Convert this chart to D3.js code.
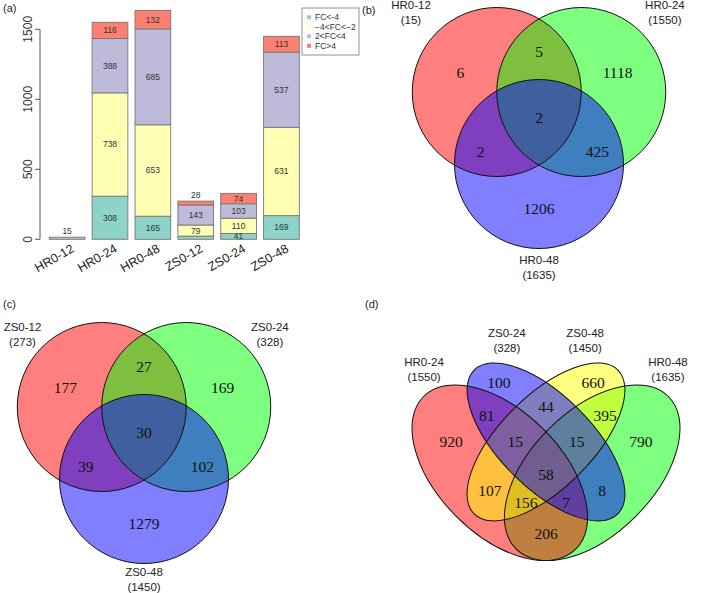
<!DOCTYPE html>
<html><head><meta charset="utf-8">
<script src="https://cdn.jsdelivr.net/npm/d3@7/dist/d3.min.js"></script>
<style>body{margin:0;background:#fff} svg{display:block}</style>
</head><body>
<script>
// ---------- Panel (a) data ----------
const samples = ["HR0-12","HR0-24","HR0-48","ZS0-12","ZS0-24","ZS0-48"];
const fcClasses = ["FC<-4","\u22124<FC<\u22122","2<FC<4","FC>4"];
const fcColors = ["#8DD3C7","#FFFFB3","#BEBADA","#FB8072"];
const fcLtMinus4     = [0, 308, 165, 23, 41, 169];
const fcMinus4toMinus2 = [0, 738, 653, 79, 110, 631];
const fc2to4         = [15, 388, 685, 143, 103, 537];
const fcGt4          = [0, 116, 132, 28, 74, 113];
const yTicks = [0, 500, 1000, 1500];

// ---------- Panel (b) data ----------
const vennBSets = ["HR0-12","HR0-24","HR0-48"];
const vennBSizes = [15, 1550, 1635];
// order: A only, B only, C only, AB, AC, BC, ABC
const vennBRegions = [6, 1118, 1206, 5, 2, 425, 2];

// ---------- Panel (c) data ----------
const vennCSets = ["ZS0-12","ZS0-24","ZS0-48"];
const vennCSizes = [273, 328, 1450];
const vennCRegions = [177, 169, 1279, 27, 39, 102, 30];

// ---------- Panel (d) data ----------
const vennDSets = ["HR0-24","ZS0-24","ZS0-48","HR0-48"];
const vennDSizes = [1550, 328, 1450, 1635];
// regions: HR24, ZS24, ZS48, HR48, HR24&ZS24, ZS24&ZS48, ZS48&HR48, HR24&ZS48, ZS24&HR48, HR24&HR48,
//          HR24&ZS24&ZS48, ZS24&ZS48&HR48, HR24&ZS48&HR48, HR24&ZS24&HR48, all
const vennDRegions = [920, 100, 660, 790, 81, 44, 395, 107, 8, 206, 15, 15, 156, 7, 58];

const W = 709, H = 593;
const svg = d3.select("body").append("svg").attr("width", W).attr("height", H)
  .style("font-family", "'Liberation Sans', Arial, sans-serif");
svg.append("rect").attr("width", W).attr("height", H).attr("fill", "#fff");

// ================= Panel (a) =================
(function(){
  const g = svg.append("g");
  const series = [fcLtMinus4, fcMinus4toMinus2, fc2to4, fcGt4];
  const x = d3.scaleBand().domain(samples).range([45.7, 302.9]).paddingInner(1/6).paddingOuter(1/12);
  const y = d3.scaleLinear().domain([0, 1500]).range([239.3, 29.3]);

  g.append("text").attr("x", 3).attr("y", 12).attr("font-size", 11).attr("fill", "#222").text("(a)");

  // axis
  g.append("line").attr("x1", 40).attr("x2", 40).attr("y1", y(0)).attr("y2", y(1500))
    .attr("stroke", "#555").attr("stroke-width", 1);
  yTicks.forEach(t => {
    g.append("line").attr("x1", 35).attr("x2", 40).attr("y1", y(t)).attr("y2", y(t))
      .attr("stroke", "#555");
    g.append("text").attr("transform", `translate(31.5,${y(t)}) rotate(-90)`)
      .attr("text-anchor", "middle").attr("font-size", 12).attr("fill", "#333").text(t);
  });

  samples.forEach((s, i) => {
    let cum = 0;
    const vals = series.map(a => a[i]);
    let topIdx = -1; vals.forEach((v, k) => { if (v > 0) topIdx = k; });
    const total = d3.sum(vals);
    vals.forEach((v, k) => {
      if (v <= 0) return;
      const y0 = y(cum), y1 = y(cum + v);
      g.append("rect").attr("x", x(s)).attr("width", x.bandwidth())
        .attr("y", y1).attr("height", y0 - y1)
        .attr("fill", fcColors[k]).attr("stroke", "#777").attr("stroke-width", 0.9);
      cum += v;
    });
    cum = 0;
    vals.forEach((v, k) => {
      if (v <= 0) return;
      const y0 = y(cum), y1 = y(cum + v);
      let ly = null;
      if (k === topIdx && (y0 - y1) < 6) ly = y(total) - 6.5;
      else if (v >= 30) ly = (y0 + y1) / 2;
      if (ly !== null) {
        g.append("text").attr("x", x(s) + x.bandwidth() / 2).attr("y", ly)
          .attr("dy", "0.35em").attr("text-anchor", "middle")
          .attr("font-size", 8.5).attr("fill", "#333").text(v);
      }
      cum += v;
    });
    g.append("text").attr("transform", `translate(${x(s) + x.bandwidth() / 2 + 8},251) rotate(-30)`)
      .attr("text-anchor", "end").attr("font-size", 12.5).attr("fill", "#222").text(s);
  });

  // legend
  const lg = g.append("g");
  lg.append("rect").attr("x", 302).attr("y", 8).attr("width", 57).attr("height", 47)
    .attr("fill", "#fff").attr("stroke", "#888").attr("stroke-width", 0.9);
  fcClasses.forEach((c, k) => {
    const cy = 17.3 + k * 9.5;
    lg.append("rect").attr("x", 307).attr("y", cy - 2).attr("width", 4).attr("height", 4).attr("fill", fcColors[k]);
    lg.append("text").attr("x", 315).attr("y", cy).attr("dy", "0.35em")
      .attr("font-size", 8.5).attr("fill", "#333").text(c);
  });
})();

// ================= Triple Venn (b), (c) =================
const tripleCenters = [[-0.5, -0.852], [0.5, -0.852], [0, 0]];
const tripleLabelPos = [[-0.93, -1.077], [0.93, -1.077], [0, 0.53], [0, -1.33], [-0.69, -0.15], [0.69, -0.15], [0, -0.544]];
const vennFill = ["#FF0000", "#00FF00", "#0000FF"];

function tripleVenn(tag, tagX, tagY, cx, cy, r, sets, sizes, regions, catPos) {
  const g = svg.append("g");
  const sx = d3.scaleLinear().domain([0, 1]).range([cx, cx + r]);
  const sy = d3.scaleLinear().domain([0, 1]).range([cy, cy + r]);
  g.append("text").attr("x", tagX).attr("y", tagY).attr("font-size", 11).attr("fill", "#222").text(tag);
  tripleCenters.forEach((c, i) => {
    g.append("circle").attr("cx", sx(c[0])).attr("cy", sy(c[1])).attr("r", r)
      .attr("fill", vennFill[i]).attr("fill-opacity", 0.5);
  });
  tripleCenters.forEach((c, i) => {
    g.append("circle").attr("cx", sx(c[0])).attr("cy", sy(c[1])).attr("r", r)
      .attr("fill", "none").attr("stroke", "#111").attr("stroke-width", 1);
  });
  regions.forEach((v, i) => {
    g.append("text").attr("x", sx(tripleLabelPos[i][0])).attr("y", sy(tripleLabelPos[i][1]))
      .attr("dy", "0.35em").attr("text-anchor", "middle")
      .attr("font-family", "'Liberation Serif', 'Times New Roman', serif")
      .attr("font-size", 15.5).attr("fill", "#111").text(v);
  });
  sets.forEach((s, i) => {
    const t = g.append("text").attr("text-anchor", "middle").attr("font-size", 11.5).attr("fill", "#222");
    t.append("tspan").attr("x", sx(catPos[i][0])).attr("y", sy(catPos[i][1])).text(s);
    t.append("tspan").attr("x", sx(catPos[i][0])).attr("y", sy(catPos[i][1]) + 15).text("(" + sizes[i] + ")");
  });
}

tripleVenn("(b)", 362, 14, 539, 164, 84.5, vennBSets, vennBSizes, vennBRegions,
  [[-1.515, -1.834], [1.49, -1.834], [0, 1.183]]);
tripleVenn("(c)", 3, 308, 144, 479, 84.5, vennCSets, vennCSizes, vennCRegions,
  [[-1.438, -1.751], [1.49, -1.751], [0, 1.148]]);

// ================= Quad Venn (d) =================
(function(){
  const g = svg.append("g");
  const sx = d3.scaleLinear().domain([0, 1]).range([392, 700]);
  const sy = d3.scaleLinear().domain([0, 1]).range([617.5, 309.5]);
  const S = 308;
  g.append("text").attr("x", 365).attr("y", 308).attr("font-size", 11).attr("fill", "#222").text("(d)");
  // ellipses: [cx, cy, a, b, rot] per set (HR0-24, ZS0-24, ZS0-48, HR0-48)
  const ell = [[0.35, 0.47, 0.35, 0.20, 45], [0.50, 0.57, 0.33, 0.15, 45],
               [0.50, 0.57, 0.33, 0.15, -45], [0.65, 0.47, 0.35, 0.20, -45]];
  const colors = ["#FF0000", "#0000FF", "#FFFF00", "#00FF00"];
  const drawOrder = [3, 0, 2, 1];
  drawOrder.forEach(i => {
    const e = ell[i];
    g.append("ellipse").attr("transform", `translate(${sx(e[0])},${sy(e[1])}) rotate(${e[4]})`)
      .attr("rx", e[2] * S).attr("ry", e[3] * S).attr("fill", colors[i]).attr("fill-opacity", 0.5);
  });
  ell.forEach(e => {
    g.append("ellipse").attr("transform", `translate(${sx(e[0])},${sy(e[1])}) rotate(${e[4]})`)
      .attr("rx", e[2] * S).attr("ry", e[3] * S).attr("fill", "none").attr("stroke", "#111").attr("stroke-width", 1);
  });
  const pos = [[0.192, 0.57], [0.347, 0.762], [0.653, 0.762], [0.808, 0.57], [0.308, 0.657], [0.5, 0.684],
               [0.692, 0.657], [0.318, 0.411], [0.682, 0.411], [0.5, 0.271], [0.4, 0.57], [0.6, 0.57],
               [0.435, 0.372], [0.565, 0.372], [0.5, 0.463]];
  vennDRegions.forEach((v, i) => {
    g.append("text").attr("x", sx(pos[i][0])).attr("y", sy(pos[i][1])).attr("dy", "0.35em")
      .attr("text-anchor", "middle").attr("font-family", "'Liberation Serif', 'Times New Roman', serif")
      .attr("font-size", 15.5).attr("fill", "#111").text(v);
  });
  const catPos = [[0.104, 0.817], [0.373, 0.911], [0.627, 0.911], [0.896, 0.817]];
  vennDSets.forEach((s, i) => {
    const t = g.append("text").attr("text-anchor", "middle").attr("font-size", 11.5).attr("fill", "#222");
    t.append("tspan").attr("x", sx(catPos[i][0])).attr("y", sy(catPos[i][1])).text(s);
    t.append("tspan").attr("x", sx(catPos[i][0])).attr("y", sy(catPos[i][1]) + 15).text("(" + vennDSizes[i] + ")");
  });
})();
</script>
</body></html>
